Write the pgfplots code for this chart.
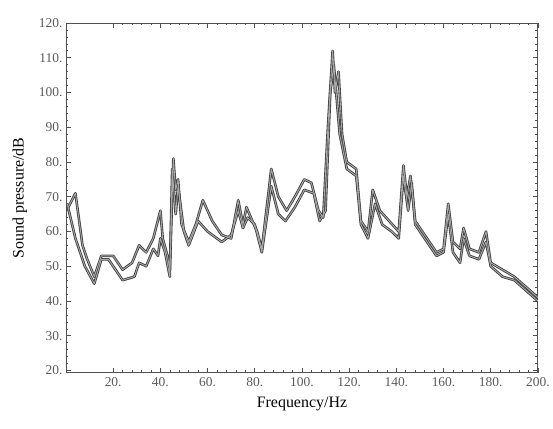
\documentclass[border=0pt]{standalone}
\usepackage{fontspec}
\setmainfont{Liberation Serif}
\usepackage{pgfplots}
\pgfplotsset{compat=1.18}
\definecolor{curve}{HTML}{404040}
\definecolor{curvein}{HTML}{A8A8A8}
\definecolor{frame}{HTML}{505050}
\definecolor{ticktext}{HTML}{5A5A5A}

\begin{document}
\begin{tikzpicture}
\begin{axis}[
    scale only axis,
    width=472bp, height=350bp,
    xmin=0, xmax=200,
    ymin=19.3, ymax=120,
    xtick={20,40,...,200},
    xticklabels={20.,40.,60.,80.,100.,120.,140.,160.,180.,200.},
    ytick={20,30,...,120},
    yticklabels={20.,30.,40.,50.,60.,70.,80.,90.,100.,110.,120.},
    minor x tick num=4,
    minor y tick num=4,
    tick align=inside,
    major tick length=5bp,
    minor tick length=2.5bp,
    axis line style={frame, line width=0.9pt},
    every tick/.style={frame, line width=0.6pt},
    tick label style={font=\fontsize{13.5}{15}\selectfont, text=ticktext},
    xticklabel style={yshift=-1bp},
    label style={font=\fontsize{16}{18}\selectfont, text=black},
    xlabel={Frequency/Hz},
    ylabel={Sound pressure/dB},
    xlabel style={yshift=-4bp},
    ylabel style={yshift=5bp},
]
\pgfplotstableread{
f v
1 67
4 71
7 56
9 52
12 47
15 53
20 53
24 49
28 51
31 56
34 54
37 58
40 66
41 58
43 53
44 49
45.5 81
46.5 72
47.5 75
49 62
52 57
55 62
58 69
62 63
66 59
70 58
73 69
75 62
76.5 67
79 63
81 60
83 55
87 78
90 70
93.5 66
97 70
101 75
104 74
107 66
109 64
111 90
113 112
114 100
115.5 106
117 88
119 80
123 78
125 63
128 60
130 72
133 66
137 63
141 60
143 79
144.5 70
146 76
148 63
152 59
157 54
160 55
162 68
164 57
167 55
168.5 61
171 55
175 54
178 60
180 51
185 49
190 47
195 44
200 41
}\seriesA
\pgfplotstableread{
f v
0.5 68
4 58
8 50
12 45
15 52
18 52
21 49
24 46
29 47
31 51
34 50
37 55
39 53
40 58
42 54
44 47
45 78
46.5 65
47.5 73
50 60
52 56
56 63
60 60
66 57
70 59
73 66
75 61
77 64
80 62
83 54
87 73
90 65
93 63
97 67
101 72
105 71
107.5 63
110 66
112 100
113.5 108
115 96
116 88
119 78
123 76
125 62
128 58
131 68
134 62
138 60
141 58
143 76
145 66
146.5 74
148 62
152 58
157 53
160 54
162 65
164 54
167 51
168.5 58
171 53
175 52
178 57
180 50
185 47
190 46
195 43
200 40
}\seriesB
\addplot[curve, line width=2.6pt, line join=round] table[x=f, y=v] {\seriesA};
\addplot[curve, line width=2.6pt, line join=round] table[x=f, y=v] {\seriesB};
\addplot[curvein, line width=0.9pt, line join=round] table[x=f, y=v] {\seriesA};
\addplot[curvein, line width=0.9pt, line join=round] table[x=f, y=v] {\seriesB};
\path (rel axis cs:0,0) ++(-66bp,-56bp) coordinate (bbsw);
\path (rel axis cs:1,1) ++(15bp,23bp) coordinate (bbne);
\end{axis}
\useasboundingbox (bbsw) rectangle (bbne);
\end{tikzpicture}
\end{document}
